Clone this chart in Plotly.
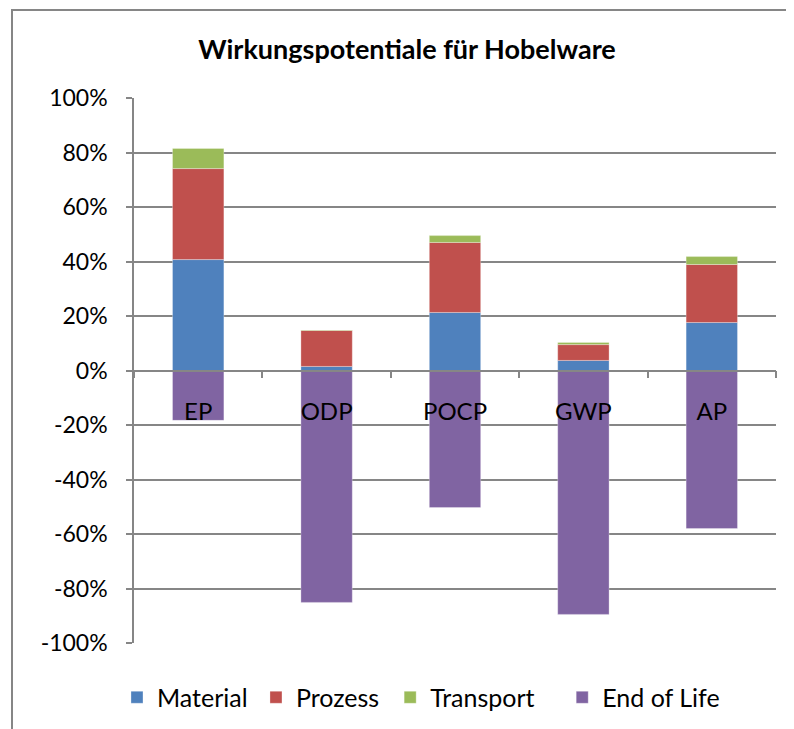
import plotly.graph_objects as go

# Daten (Anteile)
kategorien = ["EP", "ODP", "POCP", "GWP", "AP"]
material = [0.407, 0.015, 0.213, 0.037, 0.176]
prozess = [0.334, 0.132, 0.257, 0.058, 0.213]
transport = [0.074, 0.002, 0.025, 0.008, 0.029]
end_of_life = [-0.183, -0.851, -0.503, -0.895, -0.580]

y_ticks = [-1.0, -0.8, -0.6, -0.4, -0.2, 0.0, 0.2, 0.4, 0.6, 0.8, 1.0]
y_ticktext = ["-100%", "-80%", "-60%", "-40%", "-20%", "0%", "20%", "40%", "60%", "80%", "100%"]

FONT = "Lato, 'Open Sans', sans-serif"
GRID = "#868686"

# die Seite hat 8px Rand, daher Abbildung um 8px kleiner
W, H = 786, 721
L, T, PW, PH = 126, 90, 642, 545

serien = [
    ("Material", material, "#4F81BD", "legend", -0.0265),
    ("Prozess", prozess, "#C0504D", "legend2", 0.190),
    ("Transport", transport, "#9BBB59", "legend3", 0.399),
    ("End of Life", end_of_life, "#8064A2", "legend4", 0.667),
]

fig = go.Figure()
legenden = {}
for name, vals, color, leg, lx in serien:
    fig.add_trace(go.Bar(
        x=kategorien, y=vals, name=name, legend=leg,
        marker=dict(color=color, line=dict(color="rgba(255,255,255,0.6)", width=0.5)),
    ))
    legenden[leg] = dict(
        orientation="h", x=lx, xanchor="left", y=-0.1, yanchor="middle",
        font=dict(family=FONT, size=25, color="black"),
        bgcolor="rgba(0,0,0,0)", itemwidth=30,
    )

fig.update_layout(
    width=W, height=H,
    barmode="relative",
    bargap=0.6,
    paper_bgcolor="white",
    plot_bgcolor="white",
    font=dict(family=FONT, size=24, color="black"),
    margin=dict(l=L, r=W - L - PW, t=T, b=H - T - PH, autoexpand=False),
    title=dict(
        text="<b>Wirkungspotentiale für Hobelware</b>",
        x=(407 - 8) / W, xref="container", xanchor="center",
        y=1 - (50 - 8) / H, yref="container", yanchor="middle",
        font=dict(family=FONT, size=27, color="black"),
    ),
    showlegend=True,
    xaxis=dict(
        type="category",
        anchor="free", position=0.5,
        showline=True, linecolor=GRID, linewidth=1.5,
        ticks="outside", tickson="boundaries", ticklen=7, tickcolor=GRID, tickwidth=1.5,
        showgrid=False, zeroline=False,
        ticklabelstandoff=20,
        tickfont=dict(family=FONT, size=24, color="black"),
    ),
    yaxis=dict(
        range=[-1, 1],
        tickvals=y_ticks, ticktext=y_ticktext,
        showgrid=True, gridcolor=GRID, gridwidth=1.5,
        zeroline=False,
        showline=True, linecolor=GRID, linewidth=1.5,
        ticks="outside", ticklen=6, tickcolor=GRID, tickwidth=1.5,
        ticklabelstandoff=14,
        tickfont=dict(family=FONT, size=23, color="black"),
    ),
    **legenden,
)

# Diagrammrahmen
fig.add_shape(
    type="rect", xref="paper", yref="paper",
    x0=(12 - 134) / PW, x1=1.2, y0=-0.3, y1=1 + (98 - 10) / PH,
    line=dict(color=GRID, width=2), layer="below",
)

fig.write_html("out.html")
